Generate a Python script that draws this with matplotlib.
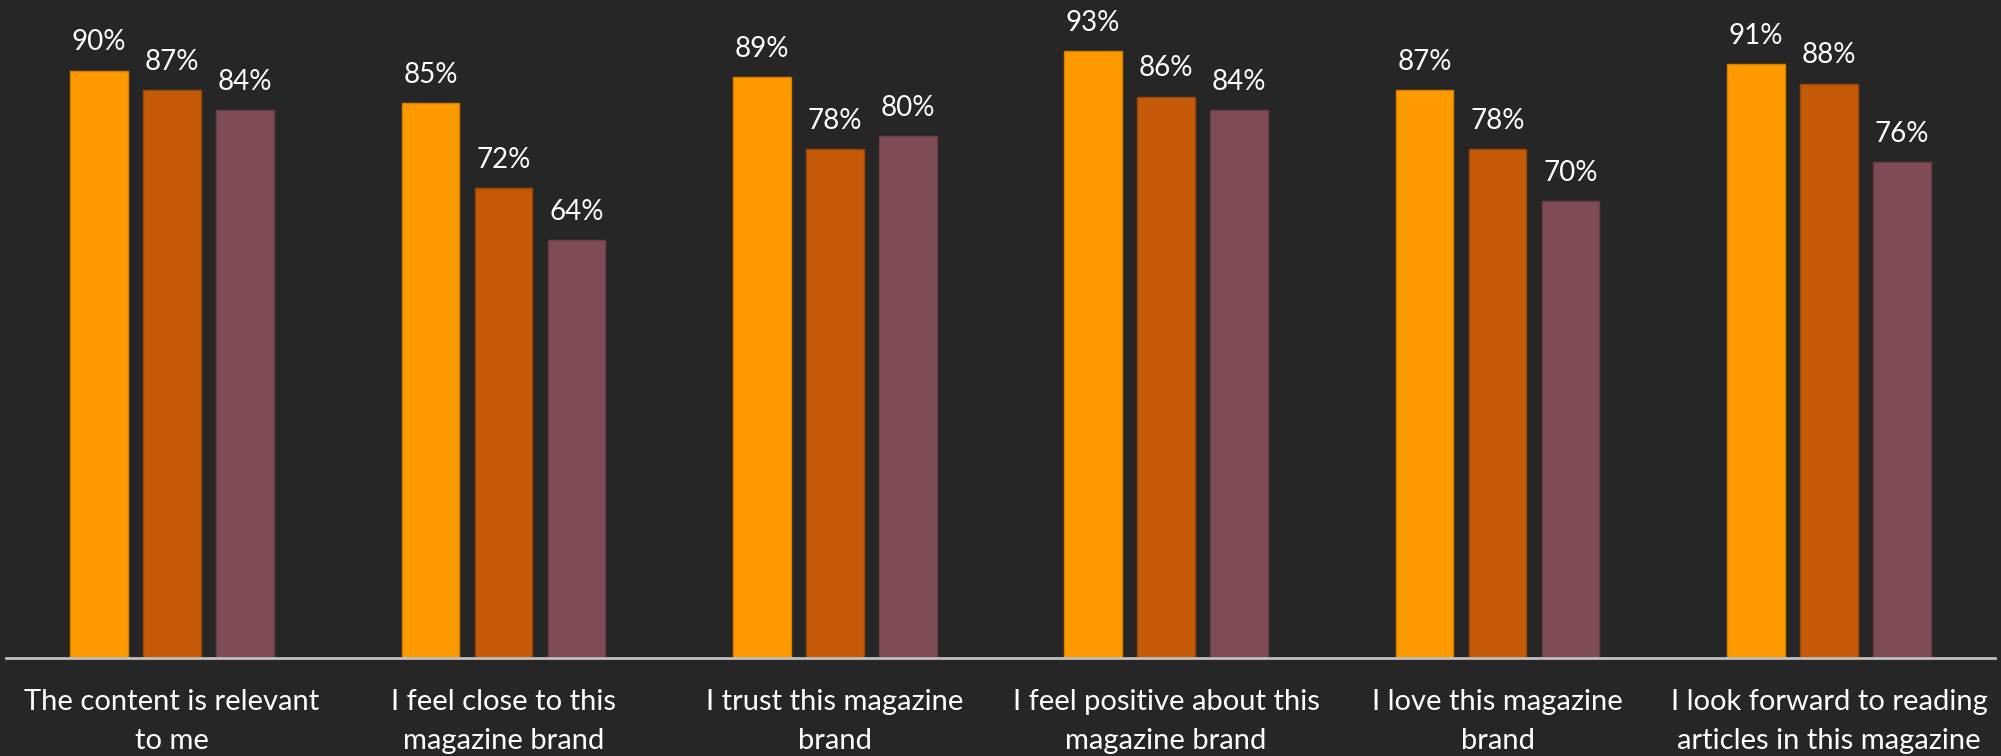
import matplotlib
matplotlib.use("Agg")
import matplotlib.pyplot as plt
import numpy as np

categories = ["The content is relevant\nto me",
              "I feel close to this\nmagazine brand",
              "I trust this magazine\nbrand",
              "I feel positive about this\nmagazine brand",
              "I love this magazine\nbrand",
              "I look forward to reading\narticles in this magazine"]
serie_a = [90, 85, 89, 93, 87, 91]
serie_b = [87, 72, 78, 86, 78, 88]
serie_c = [84, 64, 80, 84, 70, 76]

cores = ["#FF9900", "#C55A08", "#7F4B55"]
bordas = ["#D98000", "#9E4606", "#6A3C46"]
fundo = "#262626"

plt.rcParams['font.family'] = ['Lato', 'DejaVu Sans']

fig = plt.figure(figsize=(20.01, 7.56), dpi=100, facecolor=fundo)
ax = fig.add_axes([0.0032, 0.129, 0.9936, 0.864])
ax.set_facecolor(fundo)

x = np.arange(len(categories))
largura = 0.174
desloc = 0.2205

for i, serie in enumerate([serie_a, serie_b, serie_c]):
    barras = ax.bar(x + (i - 1) * desloc, serie, width=largura, color=cores[i],
                    edgecolor=bordas[i], linewidth=1)
    for b, v in zip(barras, serie):
        ax.annotate(f"{v}%", (b.get_x() + b.get_width() / 2, v),
                    xytext=(0, 11), textcoords="offset points",
                    ha="center", va="bottom", color="white", fontsize=20)

ax.set_xlim(-0.5, 5.5)
ax.set_ylim(0, 100)
ax.set_yticks([])
ax.set_xticks(x)
ax.set_xticklabels(categories, color="white", fontsize=21, linespacing=1.6)
ax.tick_params(axis="x", length=0, pad=22)
for lado in ["top", "right", "left"]:
    ax.spines[lado].set_visible(False)
ax.spines["bottom"].set_color("#BFBFBF")
ax.spines["bottom"].set_linewidth(2)

fig.savefig("out.png", dpi=100, facecolor=fundo)
